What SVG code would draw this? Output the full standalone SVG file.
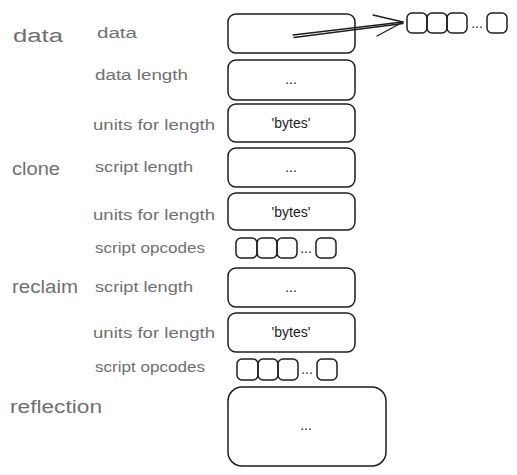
<svg xmlns="http://www.w3.org/2000/svg" width="517" height="475" viewBox="0 0 517 475">
<style>
.bg{fill:#ffffff}
.box rect{fill:none;stroke:#1e1e1e;stroke-width:1.5}
.cat{font-family:"Liberation Sans",Arial,sans-serif;font-size:18px;fill:#707070}
.lbl{font-family:"Liberation Sans",Arial,sans-serif;font-size:14px;fill:#707070}
.val{font-family:"Liberation Sans",Arial,sans-serif;font-size:14px;fill:#1e1e1e;text-anchor:middle}
.conn path{fill:none;stroke:#1e1e1e;stroke-width:1.3;stroke-linecap:round;stroke-linejoin:round}
</style>
<rect class="bg" x="0" y="0" width="517" height="475"/>

<g id="labels">
<text class="cat" x="13" y="42" textLength="50" lengthAdjust="spacingAndGlyphs">data</text>
<text class="cat" x="12" y="175" textLength="48" lengthAdjust="spacingAndGlyphs">clone</text>
<text class="cat" x="12" y="293" textLength="66" lengthAdjust="spacingAndGlyphs">reclaim</text>
<text class="cat" x="10" y="413" textLength="92" lengthAdjust="spacingAndGlyphs">reflection</text>
<text class="lbl" x="97" y="38" textLength="40" lengthAdjust="spacingAndGlyphs">data</text>
<text class="lbl" x="95" y="80" textLength="93" lengthAdjust="spacingAndGlyphs">data length</text>
<text class="lbl" x="93" y="130" textLength="122" lengthAdjust="spacingAndGlyphs">units for length</text>
<text class="lbl" x="95" y="172" textLength="98" lengthAdjust="spacingAndGlyphs">script length</text>
<text class="lbl" x="93" y="220" textLength="122" lengthAdjust="spacingAndGlyphs">units for length</text>
<text class="lbl" x="95" y="253" textLength="110" lengthAdjust="spacingAndGlyphs">script opcodes</text>
<text class="lbl" x="95" y="292" textLength="98" lengthAdjust="spacingAndGlyphs">script length</text>
<text class="lbl" x="93" y="338" textLength="122" lengthAdjust="spacingAndGlyphs">units for length</text>
<text class="lbl" x="95" y="372" textLength="110" lengthAdjust="spacingAndGlyphs">script opcodes</text>
</g>

<g id="data-box" class="box"><rect x="228" y="14" width="127" height="39" rx="8"/></g>
<g id="data-length" class="box"><rect x="228" y="60" width="127" height="40" rx="8"/><text class="val" x="291" y="84">...</text></g>
<g id="data-units" class="box"><rect x="228" y="104" width="127" height="38" rx="8"/><text class="val" x="291" y="128">'bytes'</text></g>
<g id="clone-length" class="box"><rect x="228" y="148" width="127" height="39" rx="8"/><text class="val" x="291" y="172">...</text></g>
<g id="clone-units" class="box"><rect x="228" y="193" width="127" height="37" rx="8"/><text class="val" x="291" y="217">'bytes'</text></g>
<g id="clone-opcodes" class="box">
<rect x="236" y="238" width="21" height="20" rx="5"/><rect x="257" y="238" width="20" height="20" rx="5"/><rect x="277" y="238" width="20" height="20" rx="5"/>
<text class="val" x="306" y="253">...</text>
<rect x="316" y="238" width="20" height="20" rx="5"/>
</g>
<g id="reclaim-length" class="box"><rect x="228" y="268" width="127" height="39" rx="8"/><text class="val" x="291" y="292">...</text></g>
<g id="reclaim-units" class="box"><rect x="228" y="313" width="127" height="39" rx="8"/><text class="val" x="291" y="337">'bytes'</text></g>
<g id="reclaim-opcodes" class="box">
<rect x="237" y="359" width="21" height="21" rx="5"/><rect x="258" y="359" width="20" height="21" rx="5"/><rect x="278" y="359" width="20" height="21" rx="5"/>
<text class="val" x="307" y="374">...</text>
<rect x="317" y="359" width="20" height="21" rx="5"/>
</g>
<g id="reflection-box" class="box"><rect x="228" y="387" width="158" height="79" rx="14"/><text class="val" x="306" y="430">...</text></g>
<g id="data-bytes" class="box">
<rect x="407" y="13" width="20" height="20" rx="5"/><rect x="427" y="13" width="20" height="20" rx="5"/><rect x="447" y="13" width="20" height="20" rx="5"/>
<text class="val" x="477" y="28">...</text>
<rect x="487" y="13" width="20" height="20" rx="5"/>
</g>

<g id="connectors" class="conn">
<path d="M293 35 L403 22"/>
<path d="M294 37.5 L403 23.5"/>
<path d="M373 15 L403 22 L377 36"/>
</g>
</svg>
